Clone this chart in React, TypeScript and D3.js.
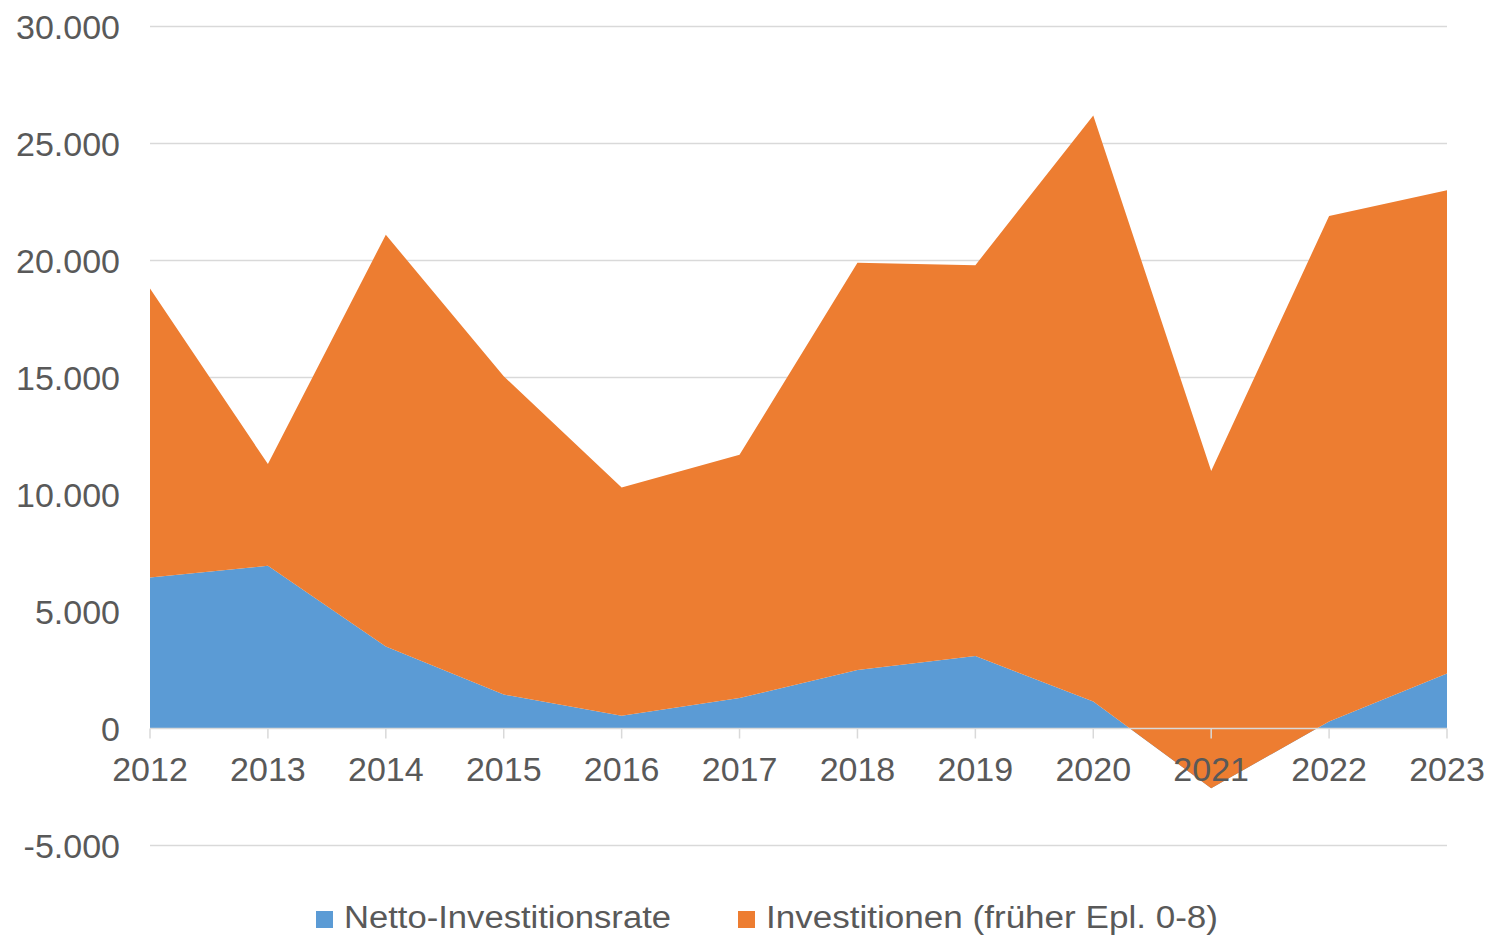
import React, { useEffect, useRef } from "react";
import * as d3 from "d3";

const years = ["2012", "2013", "2014", "2015", "2016", "2017", "2018", "2019", "2020", "2021", "2022", "2023"];
const netto = [6450, 6950, 3500, 1450, 550, 1300, 2500, 3100, 1150, -2550, 300, 2350];
const investitionen = [12350, 4350, 17600, 13600, 9750, 10400, 17400, 16700, 25050, 13550, 21600, 20650];
const yTicks = [-5000, 0, 5000, 10000, 15000, 20000, 25000, 30000];
const seriesNames = ["Netto-Investitionsrate", "Investitionen (früher Epl. 0-8)"];
const colors = ["#5B9BD5", "#ED7D31"];

const App = () => {
  const ref = useRef<SVGSVGElement>(null);

  useEffect(() => {
    const width = 1494;
    const height = 936;
    const svg = d3.select(ref.current).attr("width", width).attr("height", height);
    svg.selectAll("*").remove();

    const font = "'Liberation Sans', Arial, sans-serif";
    const de = d3.formatLocale({ decimal: ",", thousands: ".", grouping: [3], currency: ["", "€"], minus: "-" });
    const fmt = de.format(",d");

    const x = d3.scalePoint<string>().domain(years).range([150, 1447]);
    const y = d3.scaleLinear().domain([-5000, 30000]).range([845.5, 26.5]);

    const rows = years.map((yr, i) => ({ year: yr, netto: netto[i], inv: investitionen[i] }));
    const stacked = d3.stack<any>().keys(["netto", "inv"])(rows);

    // gridlines
    svg.append("g")
      .selectAll("line")
      .data(yTicks.filter((t) => t !== 0))
      .join("line")
      .attr("x1", x(years[0])!)
      .attr("x2", x(years[years.length - 1])!)
      .attr("y1", (d) => y(d))
      .attr("y2", (d) => y(d))
      .attr("stroke", "#d9d9d9")
      .attr("stroke-width", 1.5);

    const area = d3.area<any>()
      .x((d) => x(d.data.year)!)
      .y0((d) => y(d[0]))
      .y1((d) => y(d[1]));

    svg.append("g")
      .selectAll("path")
      .data(stacked)
      .join("path")
      .attr("d", (d) => area(d as any))
      .attr("fill", (_, i) => colors[i]);

    // zero axis with ticks
    const axis = svg.append("g");
    axis.append("line")
      .attr("x1", x(years[0])!)
      .attr("x2", x(years[years.length - 1])!)
      .attr("y1", y(0))
      .attr("y2", y(0))
      .attr("stroke", "#d9d9d9")
      .attr("stroke-width", 1.5);
    axis.selectAll("line.tick")
      .data(years)
      .join("line")
      .attr("class", "tick")
      .attr("x1", (d) => x(d)!)
      .attr("x2", (d) => x(d)!)
      .attr("y1", y(0))
      .attr("y2", y(0) + 10)
      .attr("stroke", "#d9d9d9")
      .attr("stroke-width", 1.5);

    // x labels
    svg.append("g")
      .selectAll("text")
      .data(years)
      .join("text")
      .attr("x", (d) => x(d)!)
      .attr("y", y(0) + 52)
      .attr("text-anchor", "middle")
      .attr("font-family", font)
      .attr("font-size", 34)
      .attr("fill", "#595959")
      .text((d) => d);

    // y labels
    svg.append("g")
      .selectAll("text")
      .data(yTicks)
      .join("text")
      .attr("x", 120)
      .attr("y", (d) => y(d) + 12)
      .attr("text-anchor", "end")
      .attr("font-family", font)
      .attr("font-size", 34)
      .attr("fill", "#595959")
      .text((d) => fmt(d));

    // legend
    const legendX = [316, 738];
    const legendW = [327, 452];
    const legend = svg.append("g")
      .selectAll("g")
      .data(seriesNames)
      .join("g")
      .attr("transform", (_, i) => `translate(${legendX[i]},0)`);
    legend.append("rect")
      .attr("x", 0)
      .attr("y", 911)
      .attr("width", 17)
      .attr("height", 17)
      .attr("fill", (_, i) => colors[i]);
    legend.append("text")
      .attr("x", 28)
      .attr("y", 928)
      .attr("font-family", font)
      .attr("font-size", 31)
      .attr("fill", "#595959")
      .attr("textLength", (_, i) => legendW[i])
      .attr("lengthAdjust", "spacingAndGlyphs")
      .text((d) => d);
  }, []);

  return <svg ref={ref} style={{ position: "absolute", left: 0, top: 0, background: "#fff" }}></svg>;
};

export default App;
